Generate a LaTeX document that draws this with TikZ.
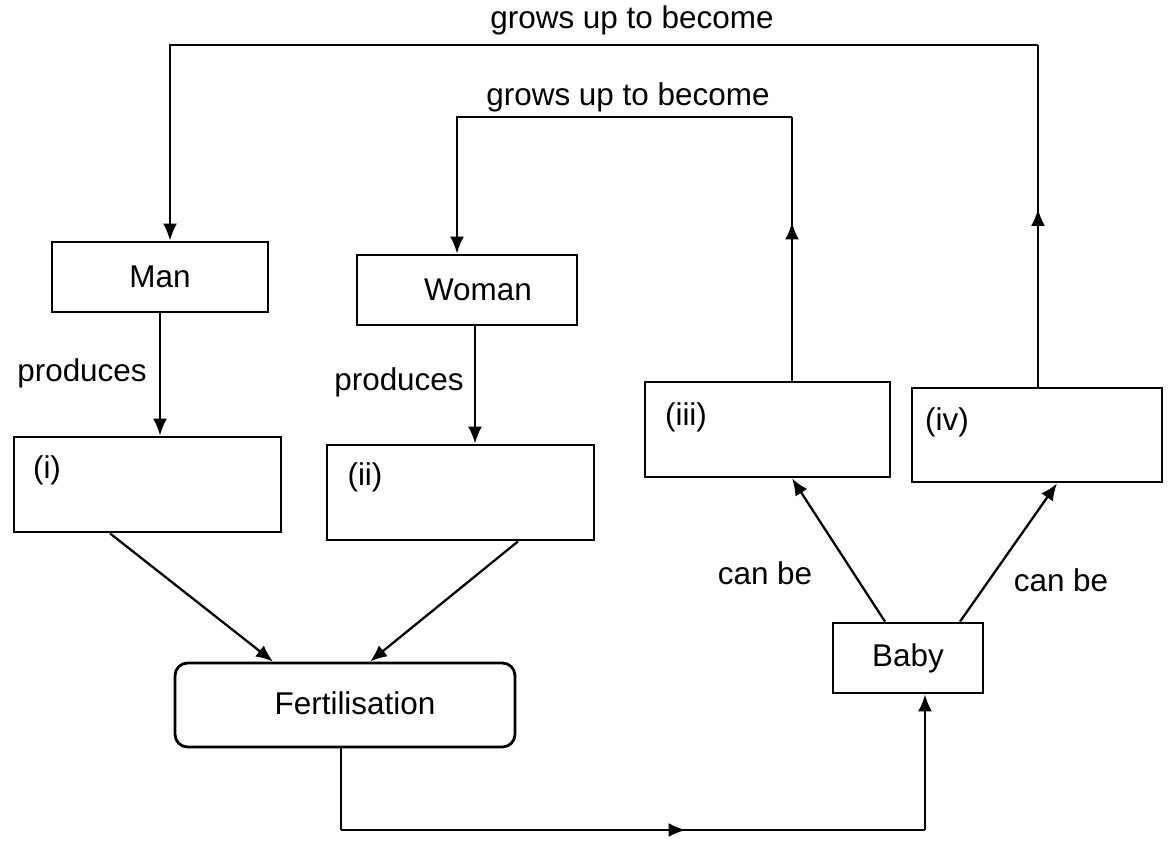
\documentclass[tikz,border=0pt]{standalone}
\usepackage{fontspec}
\setmainfont{Liberation Sans}
\usetikzlibrary{arrows.meta,decorations.markings}
\begin{document}
\begin{tikzpicture}[x=0.02cm,y=-0.02cm,
  font=\fontsize{17.9pt}{21pt}\selectfont,
  box/.style={draw, line width=1.6pt, inner sep=0pt},
  ln/.style={line width=1.3pt},
  conn/.style={line width=1.3pt, -{Latex[length=0.34cm,width=0.28cm]}},
  midarrow/.style={postaction={decorate}, decoration={markings, mark=at position #1 with {\arrow{Latex[length=0.34cm,width=0.28cm]}}}},
  lbl/.style={inner sep=1pt}
]
\useasboundingbox (0,0) rectangle (1173,841);

% boxes
\node[box, minimum width=4.32cm, minimum height=1.4cm] (man) at (160,277) {Man};
\node[box, minimum width=4.4cm, minimum height=1.4cm] (woman) at (467,290) {};
\node[lbl] (womant) at (478,290) {Woman};
\node[box, minimum width=5.34cm, minimum height=1.9cm] (i) at (147.5,484.5) {};
\node[box, minimum width=5.34cm, minimum height=1.9cm] (ii) at (460.5,492.5) {};
\node[box, minimum width=4.9cm, minimum height=1.9cm] (iii) at (767.5,429.5) {};
\node[box, minimum width=5.0cm, minimum height=1.88cm] (iv) at (1037,435) {};
\node[box, minimum width=3.0cm, minimum height=1.4cm] (baby) at (908,658) {Baby};
\node[box, rounded corners=0.25cm, minimum width=6.8cm, minimum height=1.68cm] (fert) at (345,705) {};
\node[lbl] (fertt) at (355,703) {Fertilisation};

% box labels
\node[lbl] (li) at (47,470) {(i)};
\node[lbl] (lii) at (365,477) {(ii)};
\node[lbl] (liii) at (686,417) {(iii)};
\node[lbl] (liv) at (947,422) {(iv)};

% edge labels
\node[lbl] (g1) at (632,20) {grows up to become};
\node[lbl] (g2) at (628,97) {grows up to become};
\node[lbl] (p1) at (82,373) {produces};
\node[lbl] (p2) at (399,382) {produces};
\node[lbl] (cb1) at (765,573) {can be};
\node[lbl] (cb2) at (1061,580) {can be};

% helper coordinates
\coordinate (t1) at (1038,45);
\coordinate (t2) at (170,45);
\coordinate (s1) at (792,117);
\coordinate (s2) at (457,117);
\coordinate (wx) at (475,0);
\coordinate (ia) at (110,0);
\coordinate (fa) at (273,0);
\coordinate (iia) at (518,0);
\coordinate (fb) at (370,0);
\coordinate (b1) at (341,830);
\coordinate (b2) at (925,830);
\coordinate (c1) at (885,0);
\coordinate (c2) at (792,0);
\coordinate (d1) at (960,0);
\coordinate (d2) at (1057,0);

% grows up to become (outer)
\draw[ln, midarrow=0.52] (iv.north -| t1) -- (t1);
\draw[conn] (t1) -- (t2) -- (man.north -| t2);
% grows up to become (inner)
\draw[ln, midarrow=0.6] (iii.north -| s1) -- (s1);
\draw[conn] (s1) -- (s2) -- (woman.north -| s2);
% produces
\draw[conn] (man.south) -- (i.north -| man.south);
\draw[conn] (woman.south -| wx) -- (ii.north -| wx);
% to fertilisation
\draw[conn] (i.south -| ia) -- (fert.north -| fa);
\draw[conn] (ii.south -| iia) -- (fert.north -| fb);
% fertilisation to baby
\draw[ln] (fert.south -| b1) -- (b1);
\draw[ln, midarrow=0.59] (b1) -- (b2);
\draw[conn] (b2) -- (baby.south -| b2);
% can be
\draw[conn] (baby.north -| c1) -- (iii.south -| c2);
\draw[conn] (baby.north -| d1) -- (iv.south -| d2);
\end{tikzpicture}
\end{document}
